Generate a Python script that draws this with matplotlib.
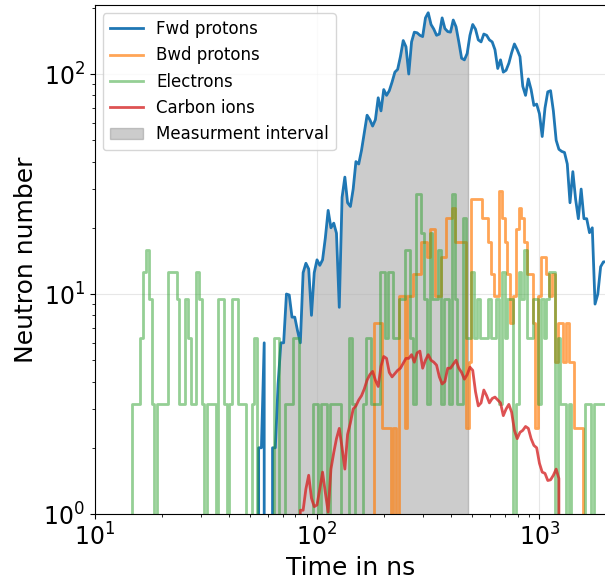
import numpy as np
import matplotlib
matplotlib.use("Agg")
import matplotlib.pyplot as plt

# Histogram bin centres (ns), log-spaced
time_ns = [
    14.13, 14.54, 14.96, 15.40, 15.85, 16.31, 16.79, 17.28, 17.78, 18.30,
    18.84, 19.39, 19.95, 20.54, 21.13, 21.75, 22.39, 23.04, 23.71, 24.41,
    25.12, 25.85, 26.61, 27.38, 28.18, 29.01, 29.85, 30.73, 31.62, 32.55,
    33.50, 34.47, 35.48, 36.52, 37.58, 38.68, 39.81, 40.97, 42.17, 43.40,
    44.67, 45.97, 47.32, 48.70,
    50.12, 51.58, 53.09, 54.64, 56.23, 57.88, 59.57, 61.31, 63.10, 64.94,
    66.83, 68.79, 70.79, 72.86, 74.99, 77.18, 79.43, 81.75, 84.14, 86.60,
    89.13, 91.73, 94.41, 97.16, 100.0, 102.9, 105.9, 109.0, 112.2, 115.5,
    118.9, 122.3, 125.9, 129.6, 133.4, 137.2, 141.3, 145.4, 149.6, 154.0,
    158.5, 163.1, 167.9, 172.8, 177.8, 183.0, 188.4, 193.9, 199.5, 205.4,
    211.3, 217.5, 223.9, 230.4, 237.1, 244.1, 251.2, 258.5, 266.1, 273.8,
    281.8, 290.1, 298.5, 307.3, 316.2, 325.5, 335.0, 344.7, 354.8, 365.2,
    375.8, 386.8, 398.1, 409.7, 421.7, 434.0, 446.7, 459.7, 473.2, 487.0,
    501.2, 515.8, 530.9, 546.4, 562.3, 578.8, 595.7, 613.1, 631.0, 649.4,
    668.3, 687.9, 707.9, 728.6, 749.9, 771.8, 794.3, 817.5, 841.4, 866.0,
    891.3, 917.3, 944.1, 971.6, 1000, 1029, 1059, 1090, 1122, 1155,
    1189, 1223, 1259, 1296, 1334, 1372, 1413, 1454, 1496, 1540,
    1585, 1631, 1679, 1728, 1778, 1830, 1884, 1939, 1995,
]

fwd_protons = [
    0, 0, 0, 0, 0, 0, 0, 0, 0, 0,
    0, 0, 0, 0, 0, 0, 0, 0, 0, 0,
    0, 0, 0, 0, 0, 0, 0, 0, 0, 0,
    0, 0, 0, 0, 0, 0, 0, 0, 0, 0,
    0, 0, 0, 0,
    0, 0, 0, 2.0, 2.0, 6.0, 0, 0, 2.0, 2.0,
    3.9, 6.0, 6.0, 10, 9.9, 7.85, 7.85, 6.8, 6.0, 12.5,
    13.8, 13.0, 8.0, 12.5, 14.3, 13.5, 14.3, 18, 24, 20,
    21, 18.9, 8.7, 27.5, 34, 26, 25, 30, 40, 39,
    45, 54, 65, 62, 58, 62, 78, 68, 85, 80,
    84, 92, 102, 105, 120, 142, 133, 100, 140, 155,
    154, 150, 148, 180, 190, 168, 160, 150, 152, 180,
    161, 156, 155, 176, 164, 140, 118, 116, 124, 150,
    168, 160, 143, 140, 152, 150, 143, 140, 129, 106,
    116, 102, 104, 112, 125, 137, 129, 120, 88, 80,
    95, 85, 72, 73, 66, 52, 70, 83, 84, 68,
    50, 45.5, 44.5, 44, 39, 26, 36, 27, 22, 30,
    22, 22, 19, 20, 9, 10, 13.3, 14, 14,
]

bwd_protons = [
    0, 0, 0, 0, 0, 0, 0, 0, 0, 0,
    0, 0, 0, 0, 0, 0, 0, 0, 0, 0,
    0, 0, 0, 0, 0, 0, 0, 0, 0, 0,
    0, 0, 0, 0, 0, 0, 0, 0, 0, 0,
    0, 0, 0, 0, 0, 0, 0, 0, 0, 0,
    0, 0, 0, 0, 0, 0, 0, 0, 0, 0,
    0, 0, 0, 0, 0, 0, 0, 0, 0, 0,
    0, 0, 0, 0, 0, 0, 0, 0, 0, 0,
    0, 0, 0, 0, 0, 0, 0, 0, 0, 7.38,
    7.38, 7.38, 2.46, 2.46, 2.46, 0, 2.46, 0, 9.84, 9.84,
    2.46, 9.84, 9.84, 12.3, 12.3, 12.3, 17.22, 17.22, 14.76, 19.68,
    19.68, 9.84, 9.84, 14.76, 14.76, 22.14, 22.14, 24.6, 17.22, 17.22,
    17.22, 17.22, 2.46, 4.92, 27.06, 27.06, 27.06, 27.06, 22.14, 22.14,
    17.22, 12.3, 9.84, 9.84, 29.52, 22.14, 17.22, 12.3, 7.38, 9.84,
    19.68, 24.6, 22.14, 17.22, 12.3, 12.3, 7.38, 2.46, 9.84, 14.76,
    14.76, 12.3, 9.84, 12.3, 4.92, 7.38, 7.38, 4.92, 7.38, 4.92,
    4.92, 2.46, 2.46, 2.46, 0, 0, 0, 0, 0, 0,
    0, 0, 0,
]

electrons = [
    0, 0, 3.16, 3.16, 3.16, 6.32, 12.64, 15.8, 9.48, 3.16,
    0, 3.16, 3.16, 3.16, 3.16, 12.64, 12.64, 12.64, 9.48, 3.16,
    3.16, 9.48, 6.32, 3.16, 3.16, 12.64, 9.48, 3.16, 0, 3.16,
    3.16, 3.16, 0, 9.48, 9.48, 3.16, 0, 3.16, 9.48, 9.48,
    3.16, 3.16, 3.16, 0, 0, 3.16, 6.32, 0, 0, 0,
    0, 0, 0, 6.32, 6.32, 0, 0, 3.16, 3.16, 3.16,
    6.32, 6.32, 0, 0, 0, 0, 0, 3.16, 3.16, 0,
    3.16, 3.16, 0, 3.16, 3.16, 3.16, 3.16, 0, 0, 0,
    6.32, 3.16, 0, 0, 0, 3.16, 6.32, 6.32, 3.16, 3.16,
    3.16, 12.64, 12.64, 6.32, 12.64, 12.64, 6.32, 6.32, 9.48, 9.48,
    15.8, 15.8, 6.32, 3.16, 28.44, 28.44, 18.96, 9.48, 3.16, 18.96,
    9.48, 9.48, 15.8, 3.16, 9.48, 9.48, 3.16, 28.44, 9.48, 3.16,
    3.16, 22.12, 6.32, 6.32, 12.64, 6.32, 9.48, 6.32, 6.32, 6.32,
    9.48, 6.32, 6.32, 9.48, 3.16, 12.64, 6.32, 9.48, 9.48, 0,
    3.16, 12.64, 9.48, 15.8, 6.32, 6.32, 9.48, 9.48, 3.16, 9.48,
    6.32, 9.48, 12.64, 12.64, 0, 6.32, 3.16, 3.16, 0, 3.16,
    0, 0, 0, 0, 0, 3.16, 3.16, 0, 3.16, 3.16,
    3.16, 3.16, 3.16,
]

carbon_ions = [
    0, 0, 0, 0, 0, 0, 0, 0, 0, 0,
    0, 0, 0, 0, 0, 0, 0, 0, 0, 0,
    0, 0, 0, 0, 0, 0, 0, 0, 0, 0,
    0, 0, 0, 0, 0, 0, 0, 0, 0, 0,
    0, 0, 0, 0,
    0, 0, 0, 0, 0, 0, 0, 0, 0, 0,
    0, 0, 0, 0, 0, 0, 0, 0, 1.04, 1.04,
    1.3, 1.5, 1.18, 1.08, 1.1, 1.3, 1.55, 1.25, 1.02, 1.6,
    1.9, 2.2, 2.45, 2.0, 1.6, 2.3, 2.6, 3.0, 3.1, 3.3,
    3.45, 3.7, 4.06, 4.3, 4.45, 4.06, 3.8, 4.7, 5.2, 5.1,
    4.4, 4.2, 4.35, 4.5, 4.6, 4.85, 5.1, 5.1, 5.3, 4.9,
    5.4, 5.5, 4.6, 5.0, 5.3, 5.0, 4.9, 4.75, 4.2, 3.9,
    4.0, 4.6, 4.6, 4.8, 5.0, 4.6, 4.4, 4.1, 4.3, 4.65,
    4.5, 3.6, 3.1, 3.2, 3.66, 3.45, 3.2, 3.35, 3.4, 3.3,
    3.2, 2.8, 3.0, 3.15, 2.9, 2.4, 2.2, 2.35, 2.4, 2.5,
    2.45, 2.2, 2.05, 2.0, 1.7, 1.55, 1.53, 1.42, 1.43, 1.5,
    1.6, 1.45, 0, 0, 0, 0, 0, 0, 0, 0,
    0, 0, 0, 0, 0, 0, 0, 0, 0,
]

# Measurement window (ns)
interval_ns = (60, 480)

t = np.array(time_ns, dtype=float)
fwd = np.array(fwd_protons, dtype=float)

fig = plt.figure(figsize=(6.05, 5.84), dpi=100)
ax = fig.add_axes([94.6 / 605, 70 / 584, 511.8 / 605, 509 / 584])

ax.plot(t, fwd, color="C0", lw=2, label="Fwd protons")
ax.plot(t, bwd_protons, color="C1", alpha=0.7, lw=2,
        drawstyle="steps-mid", label="Bwd protons")
ax.plot(t, electrons, color="C2", alpha=0.5, lw=2,
        drawstyle="steps-mid", label="Electrons")
ax.plot(t, carbon_ions, color="C3", alpha=0.8, lw=2, label="Carbon ions")

# Shade the area under the forward-proton curve inside the window
t0, t1 = interval_ns
inside = (t > t0) & (t < t1)
tt = np.concatenate(([t0], t[inside], [t1]))
yy = np.interp(np.log10(tt), np.log10(t), fwd)
ax.fill_between(tt, yy, 1e-3, color="gray", alpha=0.4,
                label="Measurment interval")

ax.set_xscale("log")
ax.set_yscale("log")
ax.set_xlim(10, 2000)
ax.set_ylim(1, 206)
ax.grid(True, which="major", alpha=0.3)
ax.tick_params(axis="both", which="major", labelsize=17)
ax.set_xlabel("Time in ns", fontsize=18)
ax.set_ylabel("Neutron number", fontsize=18)
ax.legend(loc="upper left", fontsize=12)

fig.savefig("out.png", dpi=100)
